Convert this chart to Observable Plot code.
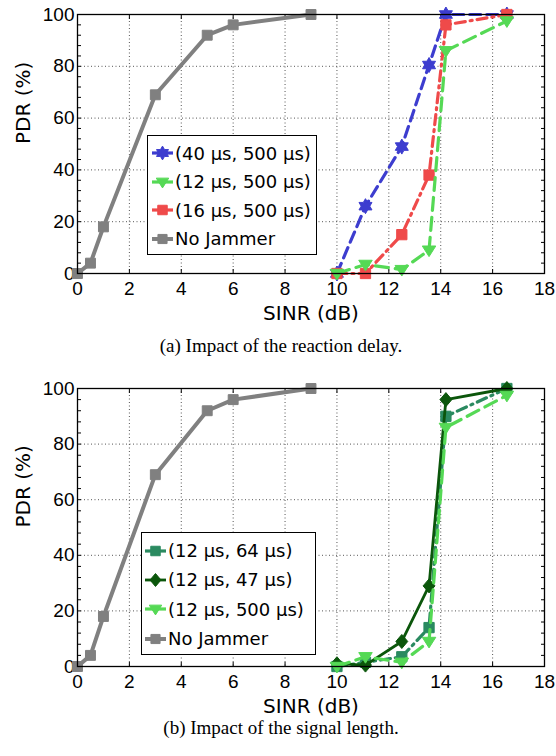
<!DOCTYPE html>
<html><head><meta charset="utf-8">
<script src="https://cdn.jsdelivr.net/npm/d3@7"></script>
<script src="https://cdn.jsdelivr.net/npm/@observablehq/plot@0.6"></script>
<style>
body{margin:0;background:#fff;width:556px;height:756px;overflow:hidden}
.panel{position:relative;width:556px}
.caption{font-family:"Liberation Serif",serif;font-size:19px;line-height:24px;text-align:center;width:556px;padding-left:6px;box-sizing:border-box;color:#000}
.legend{position:absolute;background:#fff;border:1.3px solid #000;box-sizing:border-box;font-family:"DejaVu Sans",sans-serif;font-size:18px;color:#000}
.legend .row{display:flex;align-items:center;white-space:nowrap}
.legend svg{display:block;flex:none}
</style></head><body>
<div id="panelA" class="panel"></div>
<div class="caption" style="margin-top:12px">(a) Impact of the reaction delay.</div>
<div id="panelB" class="panel"></div>
<div class="caption">(b) Impact of the signal length.</div>
<script>
// ---- data ----
const xTicks = [0, 2, 4, 6, 8, 10, 12, 14, 16, 18];
const yTicks = [0, 20, 40, 60, 80, 100];
const yMinorTicks = [0, 4, 8, 12, 16, 20, 24, 28, 32, 36, 40, 44, 48, 52, 56, 60, 64, 68, 72, 76, 80, 84, 88, 92, 96, 100];
const sinrNoJammer = [0, 0.5, 1, 3, 5, 6, 9];
const pdrNoJammer = [0, 4, 18, 69, 92, 96, 100];
const sinrJammed = [10, 11.1, 12.5, 13.55, 14.2, 16.55];
const pdr40_500 = [0, 26, 49, 80.5, 100, 100];
const pdr12_500 = [0, 3.5, 1.5, 9, 86, 97.5];
const pdr16_500 = [0, 0, 15, 38, 96, 100];
const pdr12_64 = [0, 1.5, 3.5, 14, 90, 100];
const pdr12_47 = [1, 0.5, 9, 29, 96, 100];
const labelsA = ["(40 μs, 500 μs)", "(12 μs, 500 μs)", "(16 μs, 500 μs)", "No Jammer"];
const labelsB = ["(12 μs, 64 μs)", "(12 μs, 47 μs)", "(12 μs, 500 μs)", "No Jammer"];
const xLabel = "SINR (dB)";
const yLabel = "PDR (%)";

// ---- custom symbols ----
const hexagram = {draw(ctx, size) {
  const R = Math.sqrt(size / Math.PI) * 1.25, r = R / Math.sqrt(3);
  for (let i = 0; i < 12; i++) {
    const a = -Math.PI / 2 + i * Math.PI / 6, d = i % 2 ? r : R;
    const x = d * Math.cos(a), y = d * Math.sin(a);
    i ? ctx.lineTo(x, y) : ctx.moveTo(x, y);
  }
  ctx.closePath();
}};
const triDown = {draw(ctx, size) {
  const R = Math.sqrt(size / Math.PI) * 1.3;
  ctx.moveTo(-R, -0.62 * R); ctx.lineTo(R, -0.62 * R); ctx.lineTo(0, 0.95 * R); ctx.closePath();
}};
const diamond = {draw(ctx, size) {
  const R = Math.sqrt(size / Math.PI) * 1.25;
  ctx.moveTo(0, -R); ctx.lineTo(0.85 * R, 0); ctx.lineTo(0, R); ctx.lineTo(-0.85 * R, 0); ctx.closePath();
}};

// ---- styles ----
const C = {blue: "#3d3dcf", green: "#55d955", red: "#ef4a4a", gray: "#808080", teal: "#2a8a60", dark: "#0b560b"};
const seriesA = [
  {label: labelsA[3], x: sinrNoJammer, y: pdrNoJammer, color: C.gray, dash: null, symbol: d3.symbolSquare, r: 5.6, w: 4},
  {label: labelsA[0], x: sinrJammed, y: pdr40_500, color: C.blue, dash: "11,6", symbol: hexagram, r: 6, w: 3.2},
  {label: labelsA[2], x: sinrJammed, y: pdr16_500, color: C.red, dash: "10,5,2,5", symbol: d3.symbolSquare, r: 5.8, w: 3.2},
  {label: labelsA[1], x: sinrJammed, y: pdr12_500, color: C.green, dash: "13,7", symbol: triDown, r: 5.2, w: 3.2}
];
const legendA = [seriesA[1], seriesA[3], seriesA[2], seriesA[0]];
const seriesB = [
  {label: labelsB[3], x: sinrNoJammer, y: pdrNoJammer, color: C.gray, dash: null, symbol: d3.symbolSquare, r: 5.6, w: 4},
  {label: labelsB[0], x: sinrJammed, y: pdr12_64, color: C.teal, dash: "10,5,2,5", symbol: d3.symbolSquare, r: 5.8, w: 3.2},
  {label: labelsB[1], x: sinrJammed, y: pdr12_47, color: C.dark, dash: null, symbol: diamond, r: 5.6, w: 2.8},
  {label: labelsB[2], x: sinrJammed, y: pdr12_500, color: C.green, dash: "13,7", symbol: triDown, r: 5.2, w: 3.2}
];
const legendB = [seriesB[1], seriesB[2], seriesB[3], seriesB[0]];

function makePlot(series, height, marginTop, marginBottom) {
  const marks = [
    Plot.gridX(xTicks, {stroke: "#555", strokeOpacity: 1, strokeDasharray: "1,2.5", strokeWidth: 1}),
    Plot.gridY(yTicks, {stroke: "#555", strokeOpacity: 1, strokeDasharray: "1,2.5", strokeWidth: 1}),
    Plot.axisX(xTicks, {anchor: "bottom", tickSize: 0, tickPadding: 8, label: null}),
    Plot.axisY(yTicks, {anchor: "left", tickSize: 0, tickPadding: 3, label: null}),
    Plot.axisX(xTicks, {anchor: "bottom", tickSize: -4, text: null, label: null}),
    Plot.axisX(xTicks, {anchor: "top", tickSize: -4, text: null, label: null}),
    Plot.axisY(yMinorTicks, {anchor: "left", tickSize: -4, text: null, label: null}),
    Plot.axisY(yMinorTicks, {anchor: "right", tickSize: -4, text: null, label: null})
  ];
  for (const s of series) {
    const data = s.x.map((x, i) => ({x, y: s.y[i]}));
    marks.push(Plot.line(data, {x: "x", y: "y", stroke: s.color, strokeWidth: s.w, strokeDasharray: s.dash, strokeLinejoin: "round"}));
    marks.push(Plot.dot(data, {x: "x", y: "y", symbol: s.symbol, r: s.r, fill: s.color, stroke: s.color, strokeWidth: 1}));
  }
  marks.push(Plot.frame({stroke: "#000", strokeWidth: 1.3}));
  marks.push(Plot.text([xLabel], {text: d => d, frameAnchor: "bottom", dy: 46, lineAnchor: "bottom", fontFamily: "DejaVu Sans", fontSize: 20}));
  marks.push(Plot.text([yLabel], {text: d => d, frameAnchor: "left", dx: -54, rotate: -90, lineAnchor: "middle", fontFamily: "DejaVu Sans", fontSize: 20}));
  return Plot.plot({
    width: 556, height, marginLeft: 77, marginRight: 12, marginTop, marginBottom,
    x: {domain: [0, 18]}, y: {domain: [0, 100]},
    style: {fontFamily: "Liberation Sans, Arial, sans-serif", fontSize: "19px", background: "white", overflow: "visible", color: "#000"},
    marks
  });
}

function makeLegend(items, box) {
  const div = document.createElement("div");
  div.className = "legend";
  Object.assign(div.style, {left: box.left + "px", top: box.top + "px", width: box.width + "px", height: box.height + "px", paddingTop: box.padTop + "px", paddingLeft: box.padLeft + "px"});
  for (const s of items) {
    const row = document.createElement("div");
    row.className = "row";
    row.style.height = box.row + "px";
    const svg = d3.create("svg").attr("width", 22).attr("height", 20);
    svg.append("line").attr("x1", 0).attr("x2", 21).attr("y1", 10).attr("y2", 10)
      .attr("stroke", s.color).attr("stroke-width", s.w);
    svg.append("path").attr("transform", "translate(10.5,10)")
      .attr("d", d3.symbol().type(s.symbol).size(s.r * s.r * Math.PI * 0.85)())
      .attr("fill", s.color).attr("stroke", s.color);
    row.appendChild(svg.node());
    const span = document.createElement("span");
    span.textContent = s.label;
    span.style.marginLeft = "1px";
    row.appendChild(span);
    div.appendChild(row);
  }
  return div;
}

const panelA = document.getElementById("panelA");
panelA.appendChild(makePlot(seriesA, 322, 14, 49));
panelA.appendChild(makeLegend(legendA, {left: 147, top: 135, width: 170, height: 120, padTop: 3, padLeft: 4, row: 28.5}));

const panelB = document.getElementById("panelB");
panelB.appendChild(makePlot(seriesB, 358, 30, 50));
panelB.appendChild(makeLegend(legendB, {left: 141, top: 174, width: 175, height: 123, padTop: 3, padLeft: 3, row: 29.3}));
</script>
</body></html>
